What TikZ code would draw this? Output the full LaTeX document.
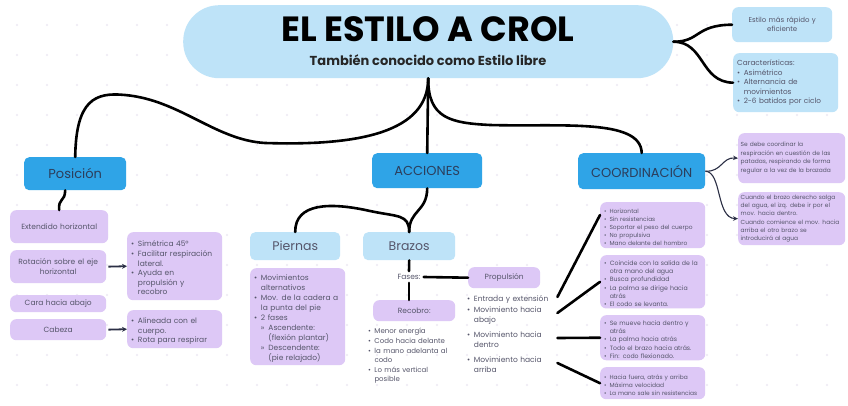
\documentclass[tikz,border=0pt]{standalone}
\usepackage{fontspec}
\setmainfont{Poppins}
\usetikzlibrary{arrows.meta,calc}
\definecolor{lblue}{HTML}{BEE3F8}
\definecolor{mblue}{HTML}{2FA4E7}
\definecolor{purp}{HTML}{DDC8F6}
\definecolor{navy}{HTML}{2C3E5C}
\definecolor{txt}{HTML}{55556A}
\definecolor{dotc}{HTML}{ECE9F4}
\definecolor{arrc}{HTML}{2B2F45}
\hyphenpenalty=10000
\exhyphenpenalty=10000
\newcommand\bl{\par\noindent\hangindent=0.9em\hangafter=1\makebox[0.9em][l]{\textbullet}}
\newcommand\sbl{\par\noindent\hangindent=1.9em\hangafter=1\hspace*{0.9em}\makebox[1em][l]{»}}
\newcommand\fs[2]{\fontsize{#1}{#2}\selectfont}
\newcommand\nl{\newline}
\begin{document}
\begin{tikzpicture}[x=1pt,y=-1pt,
  pill/.style={fill=lblue, rounded corners=36pt},
  mbox/.style={fill=mblue, rounded corners=5pt, text=navy, font=\fs{13}{15}, inner sep=0pt},
  lbox/.style={fill=lblue, rounded corners=5pt, text=txt, font=\fs{12.5}{15}, inner sep=0pt},
  pbox/.style={fill=purp, rounded corners=6pt, text=txt, inner xsep=4pt, inner ysep=2pt, align=left},
  pcbox/.style={fill=purp, rounded corners=6pt, text=txt, inner xsep=4pt, inner ysep=2pt, align=center},
  bbox/.style={fill=lblue, rounded corners=6pt, text=txt, inner xsep=4pt, inner ysep=2pt},
  conn/.style={line width=2.6pt, black, line cap=round},
  arr/.style={line width=1.8pt, arrc, -{Stealth[length=5pt,width=5pt]}, shorten <=2pt},
  tarr/.style={line width=1.1pt, arrc, -{Stealth[length=5pt,width=4.5pt]}},
  plain/.style={text=txt, align=left, inner sep=2pt}
]
\useasboundingbox (0,0) rectangle (848,406);
\fill[white] (0,0) rectangle (848,406);
\foreach \i in {0,...,27} \foreach \j in {0,...,12} \fill[dotc] (17+30*\i,25+30*\j) circle (1.2pt);

% title
\node[pill, minimum width=490, minimum height=73, anchor=north west] (title) at (183,5) {};
\node[font=\bfseries\fs{35}{38}] (t1) at (428,29) {EL ESTILO A CROL};
\node[font=\bfseries\fs{13}{15}, text=black!85] (t2) at (428,60) {También conocido como Estilo libre};

% top right
\node[bbox, align=center, text width=92, minimum height=35, anchor=north west, font=\fs{7}{9}] (b1) at (732,7) {Estilo más rápido y\\eficiente};
\node[bbox, align=left, text width=97, minimum height=59, anchor=north west, font=\fs{7.3}{9.5}] (b2) at (733,53) {\noindent Características:\bl Asimétrico\bl Alternancia de\nl movimientos\bl 2-6 batidos por ciclo\par};

% branches
\node[mbox, minimum width=102, minimum height=33, anchor=north west] (pos) at (24,157) {Posición};
\node[mbox, minimum width=110, minimum height=35, anchor=north west] (acc) at (372,153) {ACCIONES};
\node[mbox, minimum width=127, minimum height=36, anchor=north west] (coo) at (578,153) {COORDINACIÓN};

\draw[conn] (title.south) -- (acc.north);
\draw[conn] (pos.north) .. controls (76,100) and (95,92) .. (125,95) .. controls (180,100) and (215,140) .. (265,143) .. controls (360,146) and (428,132) .. (title.south);
\draw[conn] (title.south) .. controls (428,118) and (450,123) .. (490,125) .. controls (560,127) and (641,118) .. (coo.north);
\draw[conn] (title.east) .. controls (700,42) and (695,25) .. (b1.west);
\draw[conn] (title.east) .. controls (705,42) and (700,82) .. (b2.west);

% Posicion
\node[pcbox, text width=90, minimum height=33, anchor=north west, font=\fs{7.5}{10}] (ext) at (10,210) {Extendido horizontal};
\node[pcbox, text width=88, minimum height=33, anchor=north west, font=\fs{7.5}{10}] (rot) at (10,250) {Rotación sobre el eje\\horizontal};
\node[pcbox, text width=88, minimum height=17, anchor=north west, font=\fs{7.5}{10}] (cara) at (10,295) {Cara hacia abajo};
\node[pcbox, text width=88, minimum height=21, anchor=north west, font=\fs{7.5}{10}] (cab) at (10,319) {Cabeza};
\node[pbox, text width=87, minimum height=68, anchor=north west, font=\fs{7.5}{9.6}] (sim) at (127,232) {\bl Simétrica 45º\bl Facilitar respiración\nl lateral.\bl Ayuda en\nl propulsión y\nl recobro\par};
\node[pbox, text width=87, minimum height=38, anchor=north west, font=\fs{7.5}{9.6}] (ali) at (127,310) {\bl Alineada con el\nl cuerpo.\bl Rota para respirar\par};
\draw[conn] ([xshift=-10pt]pos.south) .. controls (65,202) and (58,198) .. (ext.north);
\draw[arr] (rot.east) -- (sim.west);
\draw[arr] (cab.east) -- (ali.west);

% Acciones
\node[lbox, minimum width=90, minimum height=28, anchor=north west] (pie) at (250,232) {Piernas};
\node[lbox, minimum width=92, minimum height=28, anchor=north west] (bra) at (363,232) {Brazos};
\draw[conn] (acc.south) .. controls (427,212) and (409,210) .. (bra.north);
\draw[conn] (pie.north) .. controls (295,203) and (330,202) .. (370,211) .. controls (398,217) and (409,214) .. (bra.north);
\node[pbox, text width=87, minimum height=97, anchor=north west, font=\fs{7.5}{10}] (pl) at (250,268) {\bl Movimientos\nl alternativos\bl Mov. de la cadera a\nl la punta del pie\bl 2 fases\sbl Ascendente:\nl (flexión plantar)\sbl Descendente:\nl (pie relajado)\par};

\node[plain, font=\fs{7.5}{9}, inner sep=3pt] (fases) at (409,277) {Fases:};
\node[pcbox, minimum width=72, minimum height=21, inner sep=0pt, anchor=north west, font=\fs{7.5}{9}] (prop) at (468,267) {Propulsión};
\node[pcbox, minimum width=82, minimum height=21, inner sep=0pt, anchor=north west, font=\fs{7.5}{9}] (rec) at (373,300) {Recobro:};
\draw[conn] (bra.south) -- (fases.north);
\draw[conn] (fases.south) -- (fases.south |- rec.north);
\draw[conn] (fases.east) -- (prop.west);

\node[plain, text width=90, anchor=north west, font=\fs{7}{9.6}] (rl) at (366,322) {\bl Menor energía\bl Codo hacia delante\bl la mano adelanta al\nl codo\bl Lo más vertical\nl posible\par};

\node[plain, text width=88, anchor=west, font=\fs{7.5}{10}] (p1) at (465,297) {\bl Entrada y extensión\par};
\node[plain, text width=88, anchor=west, font=\fs{7.5}{10}] (p2) at (465,313) {\bl Movimiento hacia\nl abajo\par};
\node[plain, text width=88, anchor=west, font=\fs{7.5}{10}] (p3) at (465,338) {\bl Movimiento hacia\nl dentro\par};
\node[plain, text width=88, anchor=west, font=\fs{7.5}{10}] (p4) at (465,363) {\bl Movimiento hacia\nl arriba\par};

\node[pbox, text width=97, minimum height=46, anchor=north west, font=\fs{5.9}{8}] (bA) at (600,202) {\bl Horizontal\bl Sin resistencias\bl Soportar el peso del cuerpo\bl No propulsiva\bl Mano delante del hombro\par};
\node[pbox, text width=97, minimum height=53, anchor=north west, font=\fs{6.2}{8.2}] (bB) at (600,255) {\bl Coincide con la salida de la\nl otra mano del agua\bl Busca profundidad\bl La palma se dirige hacia\nl atrás\bl El codo se levanta.\par};
\node[pbox, text width=97, minimum height=45, anchor=north west, font=\fs{6.2}{8.2}] (bC) at (600,315) {\bl Se mueve hacia dentro y\nl atrás\bl La palma hacia atrás\bl Todo el brazo hacia atrás.\bl Fin: codo flexionado.\par};
\node[pbox, text width=97, minimum height=32, anchor=north west, font=\fs{5.9}{8}] (bD) at (600,367) {\bl Hacia fuera, atrás y arriba\bl Máxima velocidad\bl La mano sale sin resistencias\par};

\draw[conn] (p1.east) -- ($(bA.north west)!0.28!(bA.south west)$);
\draw[conn] (p2.east) -- (bB.west);
\draw[conn] (p3.east) -- (bC.west);
\draw[conn] (p4.east) -- (bD.west);

% Coordinacion
\node[pbox, text width=102, inner xsep=2.5pt, minimum height=50, anchor=north west, font=\fs{5.9}{8.5}] (bE) at (738,133) {Se debe coordinar la\\respiración en cuestión de las\\patadas, respirando de forma\\regular a la vez de la brazada};
\node[pbox, text width=102, inner xsep=2.5pt, minimum height=53, anchor=north west, font=\fs{5.9}{8.3}] (bF) at (738,192) {Cuando el brazo derecho salga\\del agua, el izq. debe ir por el\\mov. hacia dentro.\\Cuando comience el mov. hacia\\arriba el otro brazo se\\introducirá al agua};
\draw[tarr] (coo.east) .. controls (722,172) and (722,157) .. (bE.west);
\draw[tarr] (coo.east) .. controls (722,172) and (716,218) .. (bF.west);
\end{tikzpicture}
\end{document}
